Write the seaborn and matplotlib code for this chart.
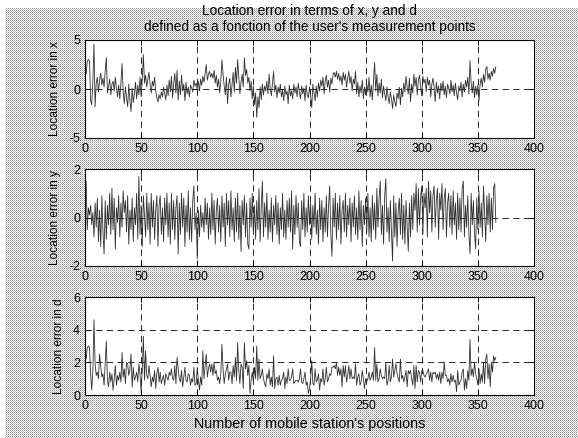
import numpy as np
import pandas as pd
import matplotlib
matplotlib.use("Agg")
import matplotlib.pyplot as plt
import seaborn as sns

# ---------------- data ----------------
x_err = [
    1.5, 2.8, 3.0, 2.9, -1.2, -1.6, 0.8, 4.6, -1.8, 0.6,
    1.2, -0.3, 0.9, 1.6, 0.4, 1.1, 0.2, 1.8, 3.2, -0.4,
    0.3, 1.0, -0.6, 0.5, 0.8, -0.2, 1.2, 0.1, -0.8, 0.4,
    -1.0, 0.6, 2.6, -0.3, -1.5, 0.2, -0.9, -1.8, 0.5, -1.2,
    -2.3, 0.1, -1.4, -0.5, 0.7, -1.0, 0.4, -0.6, 1.2, -0.8,
    0.9, 3.5, 0.6, 1.4, 0.2, 1.0, 1.7, 0.5, -0.4, 0.8,
    0.3, 1.2, -0.2, -0.9, -1.3, -0.6, -1.0, -0.3, -0.8, 0.2,
    -0.5, -1.1, 0.4, -0.7, 0.9, -0.3, 1.3, -0.9, 0.6, 1.6,
    -0.4, 1.9, -1.1, 0.8, -0.6, 1.4, -0.2, 0.5, -1.2, 0.7,
    -0.5, 0.2, -0.8, 0.4, 0.1, -0.3, 0.9, 0.3, 0.6, 0.0,
    0.8, -0.2, 1.0, 0.4, 1.3, 0.7, 1.6, 2.5, 0.9, 1.5,
    1.8, 1.2, 1.6, 1.1, 1.9, 0.6, 1.4, 0.2, 1.0, -0.4,
    0.8, 3.0, 1.5, 0.3, -0.6, 1.2, -1.5, 0.5, 1.1, -0.8,
    0.4, 1.7, -0.3, 2.2, 0.6, 3.0, 1.2, -0.5, 0.7, 1.5,
    0.2, 3.2, 1.4, 2.0, 0.6, 1.2, -0.2, 0.8, -1.0, 0.3,
    -1.6, -0.4, -2.9, -0.8, -1.9, 0.2, -1.1, 0.5, -0.6, 0.3,
    -0.2, 0.8, -0.5, 1.5, 0.1, -0.7, 0.6, 1.8, -0.3, 0.4,
    -0.9, 0.2, -0.4, 0.5, -0.8, -0.1, -1.2, 0.3, -0.6, -0.2,
    -1.5, 0.4, -0.7, -0.2, -1.0, 0.5, -0.4, 0.2, -0.8, 0.6,
    -0.3, -1.0, 0.3, -0.5, 0.1, -1.2, 0.4, -0.6, -0.9, 0.2,
    -0.7, -1.9, 0.5, -0.4, -1.2, 0.3, -0.8, 0.6, -0.2, 0.9,
    0.3, 1.2, -0.5, 0.8, 1.4, 0.2, 0.9, -0.3, 1.1, 0.5,
    1.5, 1.7, 1.2, 1.8, 1.0, 1.6, 0.8, 1.3, 0.4, 1.7,
    0.9, 1.5, 0.2, 1.1, 1.8, 0.6, 1.3, -0.2, 1.0, 0.5,
    1.8, -0.5, 0.7, -0.8, 0.3, -0.4, 0.9, -1.0, 0.2, -0.6,
    0.5, -0.3, 1.2, -0.8, 0.4, -1.1, 0.8, 2.7, -0.2, 1.5,
    -0.7, 0.6, -0.4, 1.0, -0.9, 0.3, -0.5, -1.2, 0.2, -0.8,
    -1.5, -0.3, -1.0, -2.0, -0.6, -1.3, -1.8, -0.4, -1.0, 0.2,
    -1.6, 0.1, -0.8, 0.6, -0.3, 1.3, 0.2, -0.5, 1.1, -1.3,
    0.5, -0.4, 1.5, 0.3, 1.2, -0.6, 0.9, 1.4, 0.2, -0.7,
    1.3, 0.6, 1.0, -0.3, 1.2, 0.4, 0.9, -0.8, 0.5, 1.1,
    0.2, -1.3, 0.7, -0.4, 0.3, -1.0, 0.6, -0.2, 0.8, -0.6,
    0.3, -0.9, 0.5, 0.1, -0.5, 0.9, -0.3, 0.4, -0.7, 0.6,
    -0.4, -1.1, 0.3, -0.2, 0.7, -0.8, 0.5, -0.3, 0.9, 0.2,
    1.2, -0.5, 2.9, 0.6, -0.4, 0.8, -0.9, 0.3, -0.6, 0.4,
    -1.2, 0.5, 1.1, 0.2, 1.5, 0.7, 2.0, 2.3, 1.0, 1.6,
    0.9, 1.8, 1.3, 2.1, 1.6, 2.3,
]

y_err = [
    1.5, -0.5, 0.4, 0.1, 0.5, -0.3, 0.2, -0.8, 0.6, -0.4,
    0.8, -1.0, 0.3, -1.2, 0.9, -0.6, -1.5, 0.7, -0.9, 0.5,
    -0.3, 1.0, -0.7, 1.2, -0.5, 0.8, -1.3, 0.4, -0.2, 0.9,
    -0.8, 0.6, -0.4, 1.1, 0.2, 0.7, -0.6, 0.9, -1.1, 0.3,
    -0.5, 0.8, -1.0, 0.4, -0.3, 1.0, -0.9, 1.7, -0.7, 0.5,
    -1.2, 0.9, 0.1, -0.8, 1.0, -0.5, 0.6, -1.1, 1.0, -0.4,
    0.7, -0.9, 0.3, 0.9, -1.2, 0.5, 0.9, -0.7, 0.4, -1.0,
    0.8, -0.3, 1.0, -0.8, 0.6, -1.1, 1.0, -0.5, 0.7, -0.9,
    0.4, 0.9, -1.5, 0.6, -0.7, 1.0, -0.4, 0.8, -1.2, 0.5,
    -0.6, 1.1, -0.9, 0.4, -1.0, 0.7, 1.3, -0.5, 0.2, -1.7,
    0.3, -0.8, 0.5, -0.4, 0.2, -0.6, 0.8, -0.3, 0.6, -0.9,
    0.4, -0.7, 1.0, -0.5, 0.7, -1.1, 0.3, 0.8, -0.6, 0.5,
    -1.0, 0.9, -0.4, 0.6, -1.2, 1.0, -0.3, 0.7, -0.8, 1.1,
    -0.5, 0.4, -1.0, 0.8, -0.6, 1.0, -0.9, 0.5, -1.4, 0.7,
    -0.3, 0.9, -0.8, 0.6, -1.1, -1.3, 0.8, -0.4, 1.0, -0.7,
    0.5, -0.9, 0.7, -0.5, 1.2, -1.0, 0.4, 1.5, -0.8, 0.6,
    -0.4, 1.0, -0.9, 0.3, -0.6, 0.8, -1.0, 0.5, -0.3, 0.9,
    -0.7, 0.6, -1.1, 0.4, -0.5, 1.0, -0.8, 0.3, -0.9, 0.7,
    -0.4, 0.8, -0.6, 1.1, -1.3, 0.5, -0.7, 0.9, -0.4, 0.6,
    -1.0, -1.2, 0.7, -0.5, 1.0, -0.8, 0.4, -0.6, 0.9, -0.3,
    0.6, -0.9, 0.5, -0.4, 1.0, -0.7, 0.3, -1.1, 0.8, -0.5,
    0.7, -1.0, 0.4, -0.6, 0.9, -0.8, 0.5, 1.3, -0.7, -1.6,
    0.8, -0.4, 1.0, -0.9, 0.6, -0.5, 0.9, -1.1, 0.3, 0.7,
    -0.6, 1.0, -0.8, 0.5, -0.3, 0.8, -1.0, 0.6, -0.4, 0.9,
    -0.7, 0.4, -0.9, 1.1, -0.5, 0.7, -1.2, 0.5, -0.3, 0.8,
    -0.6, 1.0, -0.8, 0.4, -1.0, 0.9, -0.5, 0.6, -0.9, 1.2,
    -0.4, 0.8, 1.5, -0.7, 0.5, -1.1, 0.9, 1.6, -0.6, 0.4,
    -1.0, 0.7, -0.5, -1.8, 0.9, -0.8, 0.6, -1.2, 0.3, 0.8,
    -0.7, 1.0, -0.9, 0.5, -1.1, 0.7, -0.4, -1.4, 0.6, -0.8,
    0.9, -0.5, 1.0, 0.3, 1.4, -0.6, 1.2, -0.3, 0.8, 1.3,
    -0.7, 1.0, 0.4, 1.2, -0.8, 1.5, 0.2, 1.1, -0.6, 0.9,
    1.3, -0.4, 0.7, 1.2, -0.9, 1.0, 0.3, 1.4, -0.5, 0.8,
    1.2, -0.8, 0.6, 1.0, -0.4, 0.9, -0.7, 1.1, -0.3, 0.6,
    -0.9, 1.0, -0.5, 0.8, -0.6, 1.2, 1.5, -0.8, 0.5, -0.4,
    0.9, -0.7, -1.5, 1.0, -0.3, 0.7, -0.6, -1.3, 0.8, -0.5,
    1.1, -0.4, 0.6, -0.8, 1.3, 0.2, -1.0, 0.9, -0.3, 1.0,
    -0.6, 0.8, -0.5, 1.2, 1.4, -0.2,
]

d_err = [
    2.2, 2.9, 3.0, 2.9, 1.3, 0.3, 1.5, 4.6, 1.9, 1.2,
    1.4, 1.0, 2.5, 1.8, 1.1, 1.3, 0.6, 2.0, 3.3, 0.9,
    0.5, 1.4, 0.8, 1.3, 0.3, 1.0, 1.8, 0.6, 1.2, 0.9,
    1.4, 0.8, 2.6, 1.1, 1.6, 0.7, 2.0, 1.9, 1.2, 1.6,
    2.5, 0.5, 1.7, 0.9, 1.1, 1.4, 0.8, 1.9, 1.3, 0.2,
    1.5, 3.6, 0.9, 2.7, 1.2, 1.0, 1.8, 1.2, 0.5, 1.1,
    0.8, 1.5, 0.4, 1.3, 1.7, 0.8, 1.4, 0.7, 1.0, 1.2,
    0.6, 1.3, 1.1, 0.9, 1.4, 1.2, 1.6, 1.0, 0.9, 1.8,
    0.7, 2.3, 1.6, 1.0, 0.8, 1.5, 0.5, 1.1, 1.7, 0.9,
    0.8, 1.3, 1.2, 0.6, 1.0, 0.8, 1.7, 0.6, 0.7, 1.7,
    0.9, 0.3, 1.1, 0.6, 2.7, 1.0, 1.8, 2.5, 1.1, 1.6,
    1.9, 1.4, 1.9, 1.2, 2.0, 1.3, 1.5, 0.9, 1.1, 0.7,
    1.3, 3.1, 1.6, 0.7, 1.3, 1.6, 1.9, 0.9, 1.4, 1.4,
    0.7, 1.8, 1.1, 2.3, 0.9, 3.2, 1.5, 0.7, 1.9, 1.7,
    0.4, 3.2, 1.6, 2.1, 1.2, 1.8, 0.1, 0.9, 1.4, 0.8,
    1.7, 1.0, 3.0, 0.9, 2.2, 1.0, 1.2, 1.6, 1.0, 0.7,
    0.5, 1.3, 1.0, 1.6, 0.6, 1.1, 0.5, 2.4, 0.4, 1.0,
    1.1, 0.6, 1.2, 0.6, 0.9, 1.0, 1.4, 0.4, 1.1, 0.7,
    1.6, 0.9, 0.9, 1.1, 1.6, 0.7, 0.8, 0.9, 0.9, 0.8,
    1.0, 1.6, 0.8, 0.7, 1.0, 1.4, 0.6, 0.8, 0.1, 0.4,
    1.0, 2.1, 0.7, 0.6, 1.6, 0.8, 0.9, 1.3, 0.3, 1.0,
    0.8, 1.6, 0.6, 1.0, 1.7, 0.8, 1.0, 1.3, 1.2, 1.7,
    1.7, 1.8, 1.6, 2.0, 1.2, 1.7, 1.2, 1.6, 0.5, 1.8,
    1.1, 1.8, 0.8, 1.2, 1.8, 1.0, 1.6, 1.0, 1.1, 1.0,
    1.9, 0.6, 1.1, 1.3, 0.6, 0.8, 1.5, 1.0, 0.4, 1.0,
    0.8, 1.0, 1.4, 0.9, 1.1, 1.4, 0.9, 2.9, 0.9, 1.9,
    0.8, 1.0, 1.6, 1.2, 1.0, 1.1, 1.0, 2.0, 0.6, 0.9,
    1.8, 0.8, 1.1, 2.2, 1.1, 1.5, 1.9, 1.3, 1.0, 0.8,
    2.2, 1.0, 1.2, 0.8, 1.1, 1.5, 0.5, 1.5, 1.3, 1.5,
    1.0, 0.6, 1.8, 0.4, 1.8, 0.8, 1.5, 1.4, 0.8, 1.5,
    1.5, 1.2, 1.1, 1.3, 1.4, 1.6, 0.9, 1.4, 0.8, 1.4,
    1.3, 1.4, 1.0, 1.3, 0.9, 1.4, 0.7, 1.4, 1.0, 2.0,
    1.2, 1.2, 0.8, 1.0, 0.6, 1.3, 0.8, 1.2, 0.8, 0.9,
    0.2, 1.5, 0.6, 0.8, 0.9, 1.4, 1.6, 0.3, 1.0, 0.4,
    1.5, 0.9, 3.4, 1.2, 1.6, 1.1, 2.0, 1.3, 1.0, 0.6,
    1.6, 0.7, 1.3, 0.8, 2.0, 0.7, 2.2, 2.5, 1.0, 1.9,
    0.5, 2.0, 1.4, 2.4, 2.1, 2.3,
]

positions = list(range(1, len(x_err) + 1))

title_text = ("Location error in terms of x, y and d\n"
              "defined as a fonction of the user's measurement points")
y_labels = ["Location error in x", "Location error in y", "Location error in d"]
x_label = "Number of mobile station's positions"
x_ticks = [0, 50, 100, 150, 200, 250, 300, 350, 400]
y_ticks_list = [[-5, 0, 5], [-2, 0, 2], [0, 2, 4, 6]]
y_lims = [(-5, 5), (-2, 2), (0, 6)]
series = [x_err, y_err, d_err]

# ---------------- style ----------------
sns.set_theme(style="white")
plt.rcParams.update({
    "axes.edgecolor": "black",
    "axes.linewidth": 0.8,
    "axes.facecolor": "white",
    "xtick.direction": "in",
    "ytick.direction": "in",
    "xtick.top": True,
    "ytick.right": True,
    "xtick.bottom": True,
    "ytick.left": True,
    "xtick.major.size": 3.5,
    "ytick.major.size": 3.5,
    "xtick.major.width": 0.7,
    "ytick.major.width": 0.7,
    "xtick.color": "black",
    "ytick.color": "black",
    "xtick.labelsize": 9,
    "ytick.labelsize": 9,
    "axes.labelsize": 8.6,
    "text.color": "black",
    "axes.labelcolor": "black",
    "lines.scale_dashes": False,
})
plt.rcParams["font.family"] = ["Liberation Sans", "DejaVu Sans"]

W, H = 578, 438
fig = plt.figure(figsize=(W / 100, H / 100), dpi=100)

# dithered gray background like the old MATLAB screenshot
yy, xx = np.mgrid[0:H, 0:W]
bg = np.ones((H, W))
bg[(yy % 2 == 0) & (xx % 2 == 0)] = 0.55
bg[(yy % 2 == 1) & (xx % 2 == 1)] = 0.78
bg[:8, :] = 1.0
bg[:, :5] = 1.0
fig.figimage(bg, cmap="gray", vmin=0, vmax=1, origin="upper", zorder=-1)

left = 85 / W
width = 449 / W
rects = [
    (left, 1 - 138 / H, width, 98 / H),
    (left, 1 - 266 / H, width, 97 / H),
    (left, 1 - 395 / H, width, 98 / H),
]

axes = []
for i, rect in enumerate(rects):
    ax = fig.add_axes(rect)
    axes.append(ax)
    df = pd.DataFrame({"pos": positions, "err": series[i]})
    sns.lineplot(data=df, x="pos", y="err", ax=ax, color="#303030",
                 linewidth=0.6, legend=False)
    ax.set_xlim(0, 400)
    ax.set_ylim(*y_lims[i])
    ax.set_xticks(x_ticks)
    ax.set_yticks(y_ticks_list[i])
    ax.set_xticklabels([str(t) for t in x_ticks])
    ax.set_yticklabels([str(t) for t in y_ticks_list[i]])
    ax.tick_params(axis="both", pad=3.5)
    ax.grid(True, color="black", linestyle=(0, (4.5, 3.2)), linewidth=0.6)
    ax.set_axisbelow(True)
    ax.set_ylabel(y_labels[i], labelpad=6)
    ax.set_xlabel("")
    for s in ax.spines.values():
        s.set_visible(True)
        s.set_color("black")

axes[0].set_title(title_text, fontsize=9.8, pad=6.5, linespacing=1.2)
axes[2].set_xlabel(x_label, fontsize=10.4, labelpad=4)

fig.savefig("out.png", dpi=100)
